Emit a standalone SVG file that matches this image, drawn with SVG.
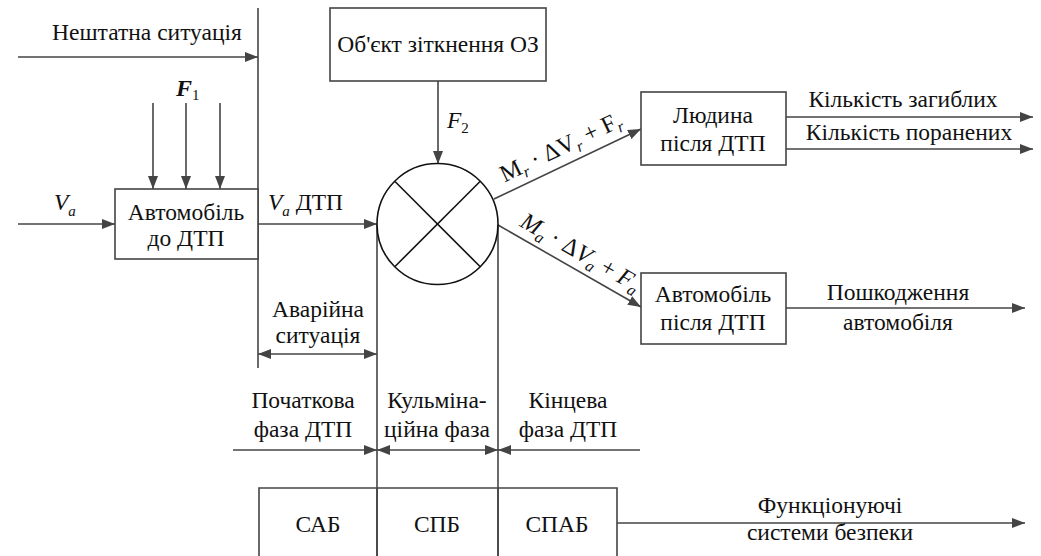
<svg xmlns="http://www.w3.org/2000/svg" width="1041" height="556" viewBox="0 0 1041 556">
<defs>
<marker id="ah" markerWidth="13" markerHeight="10" refX="13" refY="5" orient="auto" markerUnits="userSpaceOnUse">
<path d="M0,0 L13,5 L0,10 z" fill="#444"/>
</marker>
<marker id="as" markerWidth="13" markerHeight="10" refX="0" refY="5" orient="auto" markerUnits="userSpaceOnUse">
<path d="M13,0 L0,5 L13,10 z" fill="#444"/>
</marker>
</defs>

<g id="connectors" stroke="#444" stroke-width="1.6" fill="none">
<line x1="258" y1="8" x2="258" y2="368"/>
<line x1="18" y1="57" x2="258" y2="57" marker-end="url(#ah)"/>
<line x1="153" y1="103" x2="153" y2="189" marker-end="url(#ah)"/>
<line x1="186" y1="103" x2="186" y2="189" marker-end="url(#ah)"/>
<line x1="220" y1="103" x2="220" y2="189" marker-end="url(#ah)"/>
<line x1="18" y1="224" x2="115" y2="224" marker-end="url(#ah)"/>
<line x1="258" y1="224" x2="377" y2="224" marker-end="url(#ah)"/>
<line x1="438" y1="81" x2="438" y2="164" marker-end="url(#ah)"/>
<line x1="494" y1="199" x2="641" y2="129" marker-end="url(#ah)"/>
<line x1="498" y1="225" x2="641" y2="307" marker-end="url(#ah)"/>
<line x1="786" y1="117" x2="1033" y2="117" marker-end="url(#ah)"/>
<line x1="786" y1="149" x2="1033" y2="149" marker-end="url(#ah)"/>
<line x1="786" y1="308" x2="1025" y2="308" marker-end="url(#ah)"/>
<line x1="258" y1="354" x2="377" y2="354" marker-start="url(#as)" marker-end="url(#ah)"/>
<line x1="377" y1="224" x2="377" y2="556"/>
<line x1="498" y1="224" x2="498" y2="556"/>
<line x1="233" y1="450" x2="377" y2="450" marker-end="url(#ah)"/>
<line x1="377" y1="450" x2="498" y2="450" marker-start="url(#as)" marker-end="url(#ah)"/>
<line x1="640" y1="450" x2="498" y2="450" marker-end="url(#ah)"/>
<line x1="617" y1="523" x2="1025" y2="523" marker-end="url(#ah)"/>
</g>

<g font-family="Liberation Serif, Times New Roman, serif" font-size="23.5" fill="#111">

<g id="label-neshtatna"><text text-anchor="middle" x="147" y="40">Нештатна ситуація</text></g>
<g id="label-F1"><text x="176" y="96" font-style="italic" font-weight="bold" font-size="24">F<tspan font-size="15" font-style="normal" font-weight="normal" dy="4">1</tspan></text></g>
<g id="label-Va"><text x="54" y="210" font-style="italic">V<tspan font-size="15" dy="6">a</tspan></text></g>
<g id="label-VaDTP"><text x="268" y="210"><tspan font-style="italic">V</tspan><tspan font-size="15" font-style="italic" dy="6">a</tspan><tspan dy="-6"> ДТП</tspan></text></g>

<g id="node-avto-do">
<rect x="115" y="189" width="143" height="70" fill="#fff" stroke="#444" stroke-width="1.6"/>
<text text-anchor="middle" x="186" y="220">Автомобіль</text>
<text text-anchor="middle" x="186" y="246">до ДТП</text>
</g>

<g id="node-oz">
<rect x="330" y="8" width="216" height="73" fill="#fff" stroke="#444" stroke-width="1.6"/>
<text text-anchor="middle" x="438" y="52">Об'єкт зіткнення ОЗ</text>
</g>
<g id="label-F2"><text x="447" y="128" font-style="italic">F<tspan font-size="15" font-style="normal" dy="5">2</tspan></text></g>

<g id="node-collision">
<circle cx="437.5" cy="224" r="60.5" fill="#fff" stroke="#111" stroke-width="1.6"/>
<line x1="395" y1="181.5" x2="480" y2="266.5" stroke="#111" stroke-width="1.6"/>
<line x1="480" y1="181.5" x2="395" y2="266.5" stroke="#111" stroke-width="1.6"/>
</g>

<g id="label-Mr">
<text transform="translate(564,154) rotate(-25.6)" text-anchor="middle" font-size="24">M<tspan font-style="italic" font-size="16" dy="5">r</tspan><tspan dy="-5"> · ΔV</tspan><tspan font-style="italic" font-size="16" dy="5">r</tspan><tspan dy="-5"> + F</tspan><tspan font-style="italic" font-size="16" dy="5">r</tspan></text>
</g>
<g id="label-Ma">
<text transform="translate(577,259) rotate(29.8)" text-anchor="middle" font-style="italic" font-size="24">M<tspan font-size="16" dy="5">a</tspan><tspan dy="-5" font-style="normal"> · Δ</tspan><tspan>V</tspan><tspan font-size="16" dy="5">a</tspan><tspan dy="-5" font-style="normal"> + </tspan><tspan>F</tspan><tspan font-size="16" dy="5">a</tspan></text>
</g>

<g id="node-lyudyna">
<rect x="641" y="92" width="145" height="73" fill="#fff" stroke="#444" stroke-width="1.6"/>
<text text-anchor="middle" x="713" y="123">Людина</text>
<text text-anchor="middle" x="713" y="151">після ДТП</text>
</g>
<g id="label-zagyblykh"><text text-anchor="middle" x="903" y="107">Кількість загиблих</text></g>
<g id="label-poranenykh"><text text-anchor="middle" x="909" y="140">Кількість поранених</text></g>

<g id="node-avto-pislya">
<rect x="641" y="273" width="145" height="71" fill="#fff" stroke="#444" stroke-width="1.6"/>
<text text-anchor="middle" x="713" y="302">Автомобіль</text>
<text text-anchor="middle" x="713" y="330">після ДТП</text>
</g>
<g id="label-poshkodzhennya">
<text text-anchor="middle" x="898" y="300">Пошкодження</text>
<text text-anchor="middle" x="898" y="330">автомобіля</text>
</g>

<g id="label-avariina">
<text text-anchor="middle" x="318" y="317">Аварійна</text>
<text text-anchor="middle" x="318" y="343">ситуація</text>
</g>

<g id="label-pochatkova">
<text text-anchor="middle" x="303" y="408">Початкова</text>
<text text-anchor="middle" x="303" y="437">фаза ДТП</text>
</g>
<g id="label-kulmina">
<text text-anchor="middle" x="437" y="408">Кульміна-</text>
<text text-anchor="middle" x="437" y="437">ційна фаза</text>
</g>
<g id="label-kintseva">
<text text-anchor="middle" x="568" y="408">Кінцева</text>
<text text-anchor="middle" x="568" y="437">фаза ДТП</text>
</g>

<g id="node-systems">
<path d="M259,560 V488 H617 V560" fill="none" stroke="#444" stroke-width="1.6"/>
<line x1="377" y1="488" x2="377" y2="556" stroke="#444" stroke-width="1.6"/>
<line x1="498" y1="488" x2="498" y2="556" stroke="#444" stroke-width="1.6"/>
<text text-anchor="middle" x="318" y="532">САБ</text>
<text text-anchor="middle" x="437" y="532">СПБ</text>
<text text-anchor="middle" x="557" y="532">СПАБ</text>
</g>
<g id="label-funktsionuyuchi">
<text text-anchor="middle" x="830" y="513">Функціонуючі</text>
<text text-anchor="middle" x="830" y="540">системи безпеки</text>
</g>
</g>
</svg>
